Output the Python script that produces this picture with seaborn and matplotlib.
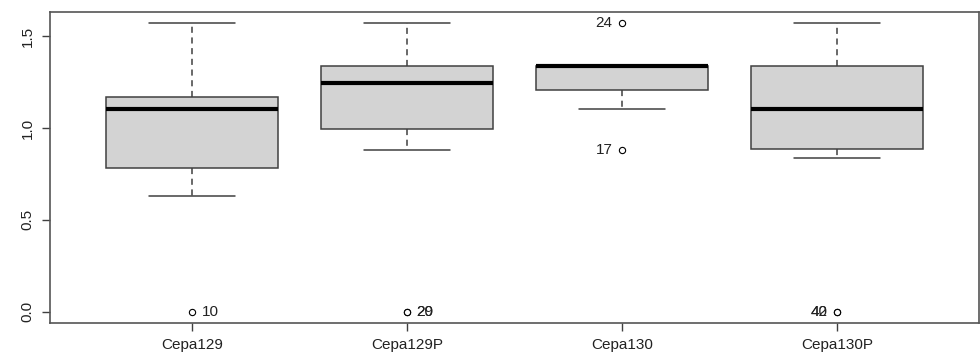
import pandas as pd
import matplotlib
matplotlib.use('Agg')
import matplotlib.pyplot as plt
import seaborn as sns

# valores (boxplot do R)
cepas = ['Cepa129', 'Cepa129P', 'Cepa130', 'Cepa130P']
cepa129 = [0.0, 0.628, 0.70, 0.785, 0.90, 1.00, 1.107, 1.107, 1.15, 1.172, 1.30, 1.45, 1.571]
cepa129p = [0.0, 0.0, 0.883, 0.995, 1.05, 1.20, 1.244, 1.25, 1.30, 1.339, 1.40, 1.50, 1.571]
cepa130 = [0.883, 1.107, 1.15, 1.206, 1.25, 1.30, 1.341, 1.341, 1.341, 1.341, 1.341, 1.341, 1.571]
cepa130p = [0.0, 0.0, 0.838, 0.884, 0.95, 1.00, 1.107, 1.20, 1.30, 1.339, 1.40, 1.50, 1.571]

# rótulos dos outliers (índice da linha no dataset original)
outlier_cepa = ['Cepa129', 'Cepa129P', 'Cepa129P', 'Cepa130', 'Cepa130', 'Cepa130P', 'Cepa130P']
outlier_valor = [0.0, 0.0, 0.0, 1.571, 0.883, 0.0, 0.0]
outlier_rotulo = ['10', '20', '29', '24', '17', '40', '42']
outlier_lado = ['dir', 'dir', 'dir', 'esq', 'esq', 'esq', 'esq']

df = pd.DataFrame({
    'cepa': ['Cepa129'] * len(cepa129) + ['Cepa129P'] * len(cepa129p)
            + ['Cepa130'] * len(cepa130) + ['Cepa130P'] * len(cepa130p),
    'valor': cepa129 + cepa129p + cepa130 + cepa130p,
})

sns.set_style('white')
plt.rcParams['font.family'] = ['Liberation Sans', 'DejaVu Sans']

fig, ax = plt.subplots(figsize=(9.8, 3.61), dpi=100)
fig.subplots_adjust(left=0.051, right=0.999, top=0.967, bottom=0.105)

cor_linha = '#404040'
sns.boxplot(data=df, x='cepa', y='valor', order=cepas, ax=ax,
            color='#D3D3D3', saturation=1, width=0.8, whis=1.5,
            linecolor=cor_linha, linewidth=1.1,
            medianprops=dict(color='black', linewidth=3),
            whiskerprops=dict(linestyle=(0, (4, 3)), color=cor_linha),
            capprops=dict(linestyle='-', color=cor_linha),
            flierprops=dict(marker='o', markersize=4.5, markerfacecolor='white',
                            markeredgecolor='black', markeredgewidth=0.8))

# rótulos dos outliers
for cepa, valor, rotulo, lado in zip(outlier_cepa, outlier_valor, outlier_rotulo, outlier_lado):
    x = cepas.index(cepa)
    if lado == 'dir':
        ax.annotate(rotulo, (x, valor), xytext=(7, 0), textcoords='offset points',
                    ha='left', va='center', fontsize=11, color='#222222')
    else:
        ax.annotate(rotulo, (x, valor), xytext=(-7, 0), textcoords='offset points',
                    ha='right', va='center', fontsize=11, color='#222222')

ax.set_xlim(-0.66, 3.66)
ax.set_ylim(-0.063, 1.634)
ax.set_yticks([0.0, 0.5, 1.0, 1.5])
ax.set_yticklabels(['0.0', '0.5', '1.0', '1.5'], rotation=90, va='center')
ax.set_xlabel('')
ax.set_ylabel('')
ax.tick_params(axis='both', which='major', direction='out', length=6, width=1,
               color=cor_linha, labelsize=11, labelcolor='#222222', pad=5, bottom=True, left=True)

for spine in ax.spines.values():
    spine.set_visible(True)
    spine.set_color('#555555')
    spine.set_linewidth(1.2)

plt.savefig('out.png', dpi=100)
